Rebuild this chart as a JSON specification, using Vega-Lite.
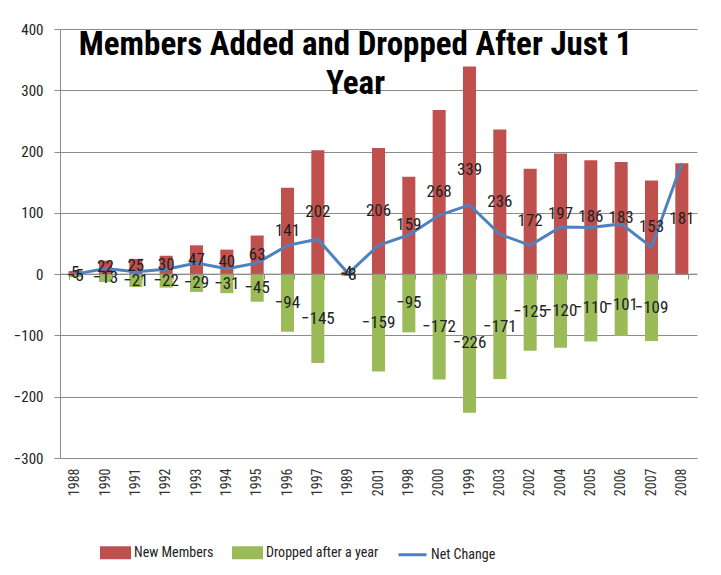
{
  "$schema": "https://vega.github.io/schema/vega-lite/v6.json",
  "width": 637,
  "height": 429,
  "autosize": {"type": "none"},
  "padding": {"left": 60, "top": 29, "right": 24, "bottom": 117},
  "background": "white",
  "title": {
    "text": ["Members Added and Dropped After Just 1", "Year"],
    "font": "Liberation Sans Narrow, Roboto Condensed, Liberation Sans",
    "fontSize": 33,
    "fontWeight": "bold",
    "color": "black",
    "lineHeight": 39,
    "anchor": "middle",
    "baseline": "top",
    "offset": 0,
    "dx": -23,
    "dy": 79
  },
  "config": {
    "view": {"stroke": null},
    "font": "Liberation Sans Narrow, Roboto Condensed, Liberation Sans"
  },
  "datasets": {
    "bars": [
      {"year": "1988", "series": "New Members", "value": 5},
      {"year": "1990", "series": "New Members", "value": 22},
      {"year": "1991", "series": "New Members", "value": 25},
      {"year": "1992", "series": "New Members", "value": 30},
      {"year": "1993", "series": "New Members", "value": 47},
      {"year": "1994", "series": "New Members", "value": 40},
      {"year": "1995", "series": "New Members", "value": 63},
      {"year": "1996", "series": "New Members", "value": 141},
      {"year": "1997", "series": "New Members", "value": 202},
      {"year": "1989", "series": "New Members", "value": 4},
      {"year": "2001", "series": "New Members", "value": 206},
      {"year": "1998", "series": "New Members", "value": 159},
      {"year": "2000", "series": "New Members", "value": 268},
      {"year": "1999", "series": "New Members", "value": 339},
      {"year": "2003", "series": "New Members", "value": 236},
      {"year": "2002", "series": "New Members", "value": 172},
      {"year": "2004", "series": "New Members", "value": 197},
      {"year": "2005", "series": "New Members", "value": 186},
      {"year": "2006", "series": "New Members", "value": 183},
      {"year": "2007", "series": "New Members", "value": 153},
      {"year": "2008", "series": "New Members", "value": 181},
      {"year": "1988", "series": "Dropped after a year", "value": -5},
      {"year": "1990", "series": "Dropped after a year", "value": -13},
      {"year": "1991", "series": "Dropped after a year", "value": -21},
      {"year": "1992", "series": "Dropped after a year", "value": -22},
      {"year": "1993", "series": "Dropped after a year", "value": -29},
      {"year": "1994", "series": "Dropped after a year", "value": -31},
      {"year": "1995", "series": "Dropped after a year", "value": -45},
      {"year": "1996", "series": "Dropped after a year", "value": -94},
      {"year": "1997", "series": "Dropped after a year", "value": -145},
      {"year": "1989", "series": "Dropped after a year", "value": -3},
      {"year": "2001", "series": "Dropped after a year", "value": -159},
      {"year": "1998", "series": "Dropped after a year", "value": -95},
      {"year": "2000", "series": "Dropped after a year", "value": -172},
      {"year": "1999", "series": "Dropped after a year", "value": -226},
      {"year": "2003", "series": "Dropped after a year", "value": -171},
      {"year": "2002", "series": "Dropped after a year", "value": -125},
      {"year": "2004", "series": "Dropped after a year", "value": -120},
      {"year": "2005", "series": "Dropped after a year", "value": -110},
      {"year": "2006", "series": "Dropped after a year", "value": -101},
      {"year": "2007", "series": "Dropped after a year", "value": -109}
    ],
    "net": [
      {"year": "1988", "value": 0},
      {"year": "1990", "value": 9},
      {"year": "1991", "value": 4},
      {"year": "1992", "value": 8},
      {"year": "1993", "value": 18},
      {"year": "1994", "value": 9},
      {"year": "1995", "value": 18},
      {"year": "1996", "value": 47},
      {"year": "1997", "value": 57},
      {"year": "1989", "value": 1},
      {"year": "2001", "value": 47},
      {"year": "1998", "value": 64},
      {"year": "2000", "value": 96},
      {"year": "1999", "value": 113},
      {"year": "2003", "value": 65},
      {"year": "2002", "value": 47},
      {"year": "2004", "value": 77},
      {"year": "2005", "value": 76},
      {"year": "2006", "value": 82},
      {"year": "2007", "value": 44},
      {"year": "2008", "value": 181}
    ]
  },
  "layer": [
    {
      "data": {"name": "bars"},
      "mark": {"type": "bar"},
      "encoding": {
        "x": {
          "field": "year",
          "type": "nominal",
          "scale": {
            "domain": ["1988","1990","1991","1992","1993","1994","1995","1996","1997","1989","2001","1998","2000","1999","2003","2002","2004","2005","2006","2007","2008"],
            "paddingInner": 0.57,
            "paddingOuter": 0.285
          },
          "axis": {
            "title": null,
            "orient": "bottom",
            "domain": false,
            "ticks": false,
            "labelAngle": -90,
            "labelPadding": 10,
            "labelFontSize": 14,
            "labelColor": "#333333"
          }
        },
        "y": {
          "field": "value",
          "type": "quantitative",
          "scale": {"domain": [-300, 400], "nice": false, "zero": false},
          "axis": {
            "title": null,
            "values": [-300, -200, -100, 0, 100, 200, 300, 400],
            "grid": true,
            "gridColor": "#8c8c8c",
            "gridOpacity": 1,
            "domainColor": "#8c8c8c",
            "tickColor": "#8c8c8c",
            "tickSize": 6,
            "labelPadding": 11,
            "labelFontSize": 15,
            "labelColor": "#222222"
          }
        },
        "color": {
          "field": "series",
          "type": "nominal",
          "scale": {
            "domain": ["New Members", "Dropped after a year", "Net Change"],
            "range": ["#C0504D", "#9BBB59", "#4F81BD"]
          },
          "legend": {
            "title": null,
            "orient": "none",
            "legendX": 40,
            "legendY": 508,
            "direction": "horizontal",
            "padding": 0,
            "columnPadding": 13,
            "labelOffset": 3,
            "labelFontSize": 14,
            "labelColor": "#222222",
            "labelLimit": 300,
            "symbolSize": 784,
            "symbolType": "M-1,-0.36H1V0.36H-1Z",
            "encode": {
              "symbols": {
                "update": {
                  "shape": {"signal": "datum.value === 'Net Change' ? 'stroke' : 'M-1,-0.36H1V0.36H-1Z'"},
                  "stroke": {"signal": "datum.value === 'Net Change' ? '#4F81BD' : 'transparent'"},
                  "strokeWidth": {"value": 3},
                  "size": {"value": 784}
                }
              }
            }
          }
        }
      }
    },
    {
      "data": {"values": [{}]},
      "mark": {"type": "rule", "color": "#8c8c8c", "strokeWidth": 1},
      "encoding": {
        "y": {"datum": 0, "type": "quantitative", "scale": {"domain": [-300, 400], "nice": false, "zero": false}, "axis": null}
      }
    },
    {
      "data": {"name": "net"},
      "mark": {"type": "line", "strokeWidth": 3},
      "encoding": {
        "x": {
          "field": "year",
          "type": "nominal",
          "axis": {
            "title": null,
            "orient": "bottom",
            "offset": -184,
            "labels": false,
            "domain": false,
            "ticks": true,
            "tickBand": "extent",
            "tickSize": 5,
            "tickColor": "#8c8c8c"
          }
        },
        "y": {"field": "value", "type": "quantitative", "scale": {"domain": [-300, 400], "nice": false, "zero": false}, "axis": null},
        "color": {"datum": "Net Change"}
      }
    },
    {
      "data": {"name": "bars"},
      "mark": {"type": "text", "fontSize": 17, "color": "#222222", "baseline": "middle", "align": "center"},
      "encoding": {
        "x": {"field": "year", "type": "nominal", "axis": null},
        "y": {"field": "value", "type": "quantitative", "scale": {"domain": [-600, 800], "nice": false, "zero": false}, "axis": null},
        "text": {"field": "value", "type": "quantitative"}
      }
    }
  ],
  "resolve": {
    "scale": {"y": "independent"},
    "axis": {"x": "independent", "y": "independent"}
  }
}
